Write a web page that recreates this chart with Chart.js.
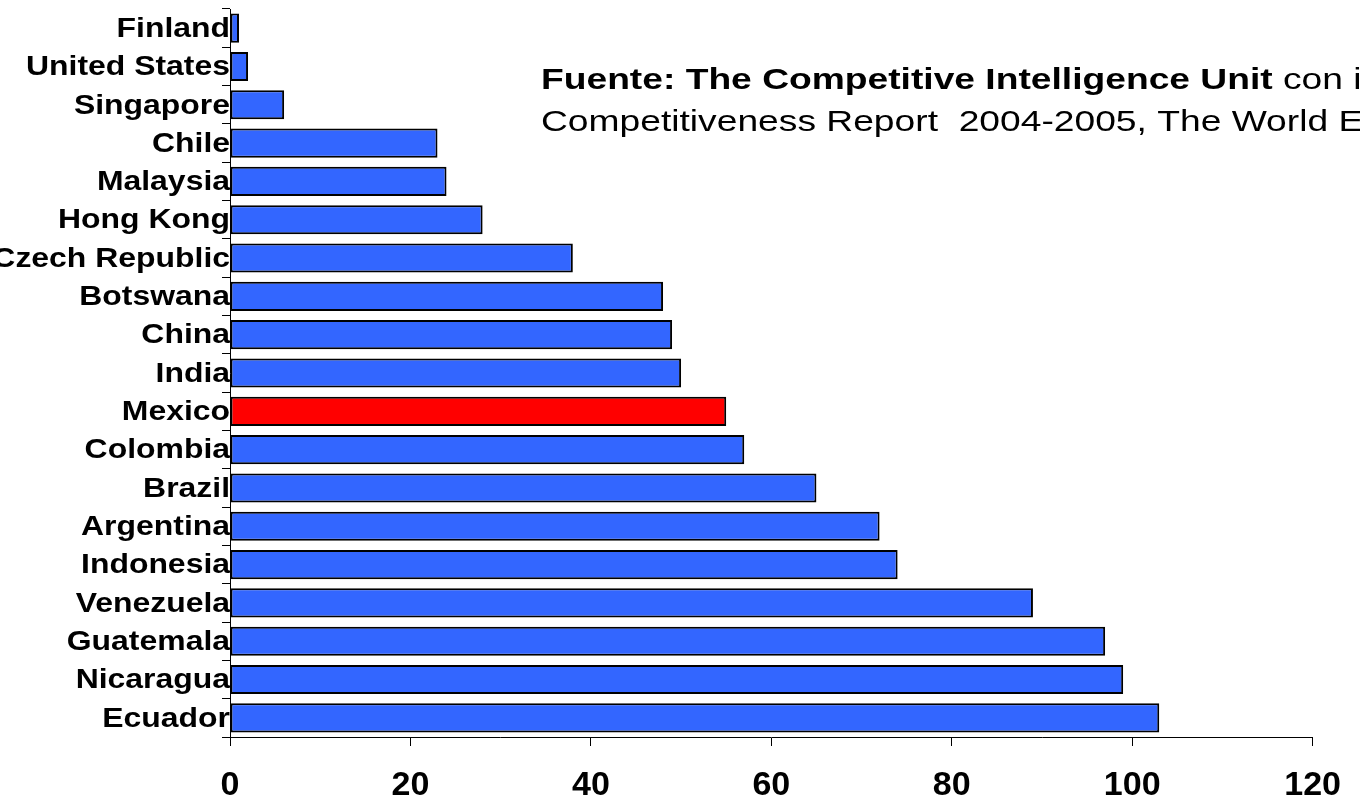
<!DOCTYPE html>
<html>
<head>
<meta charset="utf-8">
<script src="https://cdn.jsdelivr.net/npm/chart.js@4.4.1/dist/chart.umd.min.js"></script>
<style>
html,body{margin:0;padding:0;background:#fff;overflow:hidden;}
#c{display:block;}
</style>
</head>
<body>
<canvas id="c" width="1360" height="799"></canvas>
<script>
const countries = ["Finland","United States","Singapore","Chile","Malaysia","Hong Kong","Czech Republic","Botswana","China","India","Mexico","Colombia","Brazil","Argentina","Indonesia","Venezuela","Guatemala","Nicaragua","Ecuador"];
const ranks = [1,2,6,23,24,28,38,48,49,50,55,57,65,72,74,89,97,99,103];
const highlight = "Mexico";
const xTicks = [0,20,40,60,80,100,120];
const noteBold = "Fuente: The Competitive Intelligence Unit";
const noteRest = " con información de Global";
const noteLine2 = "Competitiveness Report  2004-2005, The World Economic Forum";

const barColors = countries.map(c => c === highlight ? "#FF0000" : "#3366FF");
const FONT = "'Liberation Sans', Arial, sans-serif";

// Category labels drawn with horizontal stretch, positioned by the y scale
const labelPlugin = {
  id: "catLabels",
  afterDraw(chart) {
    const ctx = chart.ctx;
    const ys = chart.scales.y;
    const sx = 1.14;
    ctx.save();
    ctx.fillStyle = "#000";
    ctx.font = "bold 28px " + FONT;
    ctx.textAlign = "right";
    ctx.textBaseline = "middle";
    countries.forEach((name, i) => {
      const y = ys.getPixelForValue(i);
      ctx.save();
      ctx.translate(230, y + 1);
      ctx.scale(sx, 1);
      ctx.fillText(name, 0, 0);
      ctx.restore();
    });
    ctx.restore();
  }
};

const notePlugin = {
  id: "note",
  afterDraw(chart) {
    const ctx = chart.ctx;
    ctx.save();
    ctx.fillStyle = "#000";
    ctx.textBaseline = "alphabetic";
    ctx.textAlign = "left";
    const sx = 1.24;
    ctx.translate(541, 0);
    ctx.scale(sx, 1);
    ctx.font = "bold 30px " + FONT;
    ctx.fillText(noteBold, 0, 89);
    const w = ctx.measureText(noteBold).width;
    ctx.font = "30px " + FONT;
    ctx.fillText(noteRest, w, 89);
    ctx.fillText(noteLine2, 0, 131);
    ctx.restore();
  }
};

new Chart(document.getElementById("c"), {
  type: "bar",
  data: {
    labels: countries,
    datasets: [{
      data: ranks,
      backgroundColor: barColors,
      borderColor: "#000",
      borderWidth: 2,
      borderSkipped: false,
      barPercentage: 0.76,
      categoryPercentage: 1
    }]
  },
  options: {
    indexAxis: "y",
    responsive: false,
    animation: false,
    devicePixelRatio: 1,
    layout: { padding: { top: 9, right: 47, left: 0, bottom: 0 } },
    plugins: { legend: { display: false }, tooltip: { enabled: false } },
    scales: {
      x: {
        min: 0, max: 120,
        afterBuildTicks(axis) { axis.ticks = xTicks.map(v => ({ value: v })); },
        afterFit(axis) { axis.height = 62; },
        border: { display: true, color: "#000", width: 1 },
        grid: { display: true, drawOnChartArea: false, color: "#000", tickLength: 9, tickWidth: 1 },
        ticks: {
          color: "#000",
          padding: 19,
          maxRotation: 0,
          font: { family: FONT, size: 34, weight: "bold" }
        }
      },
      y: {
        offset: true,
        afterFit(axis) { axis.width = 230; },
        border: { display: true, color: "#000", width: 1 },
        grid: { display: true, drawOnChartArea: false, offset: true, color: "#000", tickLength: 8, tickWidth: 1 },
        ticks: { display: false, autoSkip: false }
      }
    }
  },
  plugins: [labelPlugin, notePlugin]
});
</script>
</body>
</html>
